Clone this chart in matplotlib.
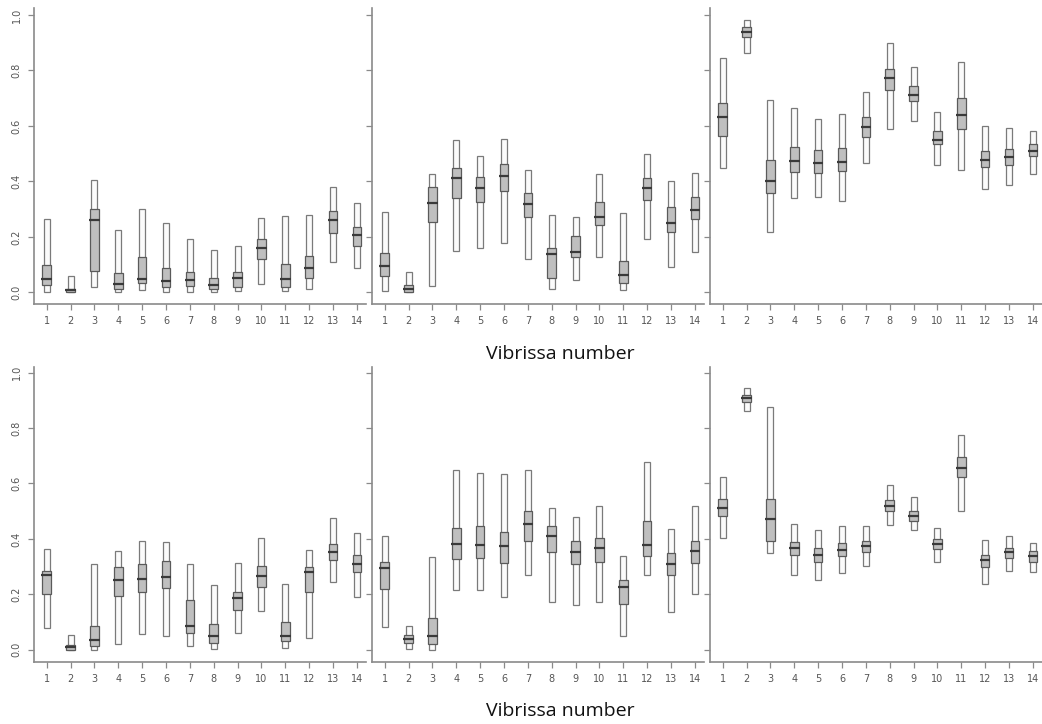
import matplotlib
matplotlib.use("Agg")
import matplotlib.pyplot as plt
import numpy as np

vibrissa = list(range(1, 15))
ytick_vals = [0.0, 0.2, 0.4, 0.6, 0.8, 1.0]
ytick_labels = ["0.0", "0.2", "0.4", "0.6", "0.8", "1.0"]
xlabel_text = "Vibrissa number"

# Panel A (top left)
a_lo  = [0.000, 0.000, 0.018, 0.000, 0.008, 0.000, 0.000, 0.000, 0.005, 0.031, 0.005, 0.012, 0.111, 0.087]
a_hi  = [0.264, 0.059, 0.405, 0.225, 0.302, 0.249, 0.194, 0.153, 0.167, 0.267, 0.275, 0.280, 0.381, 0.321]
a_q1  = [0.026, 0.001, 0.078, 0.011, 0.032, 0.020, 0.023, 0.013, 0.020, 0.119, 0.020, 0.053, 0.213, 0.167]
a_q3  = [0.099, 0.013, 0.300, 0.069, 0.126, 0.087, 0.075, 0.053, 0.072, 0.191, 0.101, 0.132, 0.293, 0.234]
a_med = [0.047, 0.007, 0.261, 0.031, 0.047, 0.041, 0.044, 0.026, 0.052, 0.159, 0.047, 0.087, 0.260, 0.208]

# Panel B (top middle)
b_lo  = [0.005, 0.000, 0.024, 0.148, 0.161, 0.178, 0.120, 0.011, 0.043, 0.127, 0.008, 0.192, 0.090, 0.145]
b_hi  = [0.290, 0.072, 0.427, 0.549, 0.492, 0.553, 0.440, 0.279, 0.273, 0.428, 0.285, 0.498, 0.401, 0.429]
b_q1  = [0.060, 0.001, 0.252, 0.340, 0.326, 0.365, 0.270, 0.050, 0.126, 0.242, 0.032, 0.332, 0.218, 0.266]
b_q3  = [0.143, 0.026, 0.381, 0.447, 0.415, 0.462, 0.359, 0.161, 0.202, 0.326, 0.114, 0.411, 0.306, 0.344]
b_med = [0.096, 0.013, 0.323, 0.411, 0.375, 0.419, 0.318, 0.137, 0.144, 0.273, 0.061, 0.375, 0.250, 0.297]

# Panel C (top right)
c_lo  = [0.450, 0.862, 0.219, 0.339, 0.343, 0.328, 0.465, 0.588, 0.618, 0.459, 0.441, 0.373, 0.386, 0.427]
c_hi  = [0.844, 0.982, 0.694, 0.663, 0.625, 0.643, 0.724, 0.898, 0.814, 0.651, 0.832, 0.601, 0.594, 0.582]
c_q1  = [0.564, 0.920, 0.357, 0.435, 0.431, 0.437, 0.559, 0.730, 0.690, 0.534, 0.589, 0.451, 0.459, 0.492]
c_q3  = [0.684, 0.956, 0.477, 0.525, 0.513, 0.520, 0.633, 0.805, 0.744, 0.583, 0.702, 0.511, 0.518, 0.535]
c_med = [0.633, 0.940, 0.401, 0.474, 0.465, 0.471, 0.597, 0.772, 0.712, 0.549, 0.639, 0.477, 0.487, 0.511]

# Panel D (bottom left)
d_lo  = [0.078, 0.000, 0.000, 0.022, 0.058, 0.048, 0.012, 0.002, 0.062, 0.139, 0.006, 0.042, 0.243, 0.189]
d_hi  = [0.363, 0.054, 0.310, 0.358, 0.393, 0.388, 0.308, 0.232, 0.314, 0.404, 0.236, 0.361, 0.475, 0.423]
d_q1  = [0.200, 0.000, 0.012, 0.195, 0.210, 0.222, 0.060, 0.026, 0.144, 0.228, 0.030, 0.207, 0.325, 0.280]
d_q3  = [0.285, 0.018, 0.087, 0.298, 0.311, 0.322, 0.180, 0.094, 0.208, 0.303, 0.102, 0.300, 0.382, 0.343]
d_med = [0.270, 0.010, 0.036, 0.252, 0.256, 0.264, 0.087, 0.050, 0.186, 0.267, 0.048, 0.282, 0.353, 0.310]

# Panel E (bottom middle)
e_lo  = [0.084, 0.002, 0.000, 0.214, 0.216, 0.190, 0.270, 0.174, 0.163, 0.173, 0.050, 0.270, 0.138, 0.202]
e_hi  = [0.411, 0.087, 0.333, 0.647, 0.637, 0.633, 0.650, 0.513, 0.480, 0.518, 0.339, 0.679, 0.434, 0.520]
e_q1  = [0.221, 0.024, 0.022, 0.328, 0.330, 0.313, 0.393, 0.353, 0.308, 0.316, 0.165, 0.340, 0.270, 0.313]
e_q3  = [0.316, 0.053, 0.114, 0.441, 0.445, 0.425, 0.500, 0.447, 0.392, 0.405, 0.252, 0.463, 0.349, 0.393]
e_med = [0.294, 0.038, 0.048, 0.382, 0.379, 0.373, 0.453, 0.412, 0.351, 0.367, 0.225, 0.379, 0.308, 0.357]

# Panel F (bottom right)
f_lo  = [0.403, 0.863, 0.349, 0.270, 0.252, 0.276, 0.303, 0.451, 0.433, 0.318, 0.502, 0.238, 0.286, 0.279]
f_hi  = [0.625, 0.943, 0.874, 0.454, 0.433, 0.447, 0.448, 0.595, 0.550, 0.441, 0.774, 0.397, 0.412, 0.387]
f_q1  = [0.483, 0.895, 0.391, 0.343, 0.318, 0.339, 0.352, 0.501, 0.465, 0.363, 0.623, 0.300, 0.330, 0.315]
f_q3  = [0.543, 0.918, 0.543, 0.389, 0.367, 0.387, 0.391, 0.541, 0.499, 0.400, 0.694, 0.343, 0.367, 0.355]
f_med = [0.513, 0.907, 0.472, 0.367, 0.343, 0.361, 0.373, 0.517, 0.484, 0.382, 0.655, 0.325, 0.351, 0.337]

panels = [
    (a_lo, a_hi, a_q1, a_q3, a_med),
    (b_lo, b_hi, b_q1, b_q3, b_med),
    (c_lo, c_hi, c_q1, c_q3, c_med),
    (d_lo, d_hi, d_q1, d_q3, d_med),
    (e_lo, e_hi, e_q1, e_q3, e_med),
    (f_lo, f_hi, f_q1, f_q3, f_med),
]

W, H = 1042, 724
fig = plt.figure(figsize=(W / 100, H / 100), dpi=100)

spine_col = "#8a8a8a"
text_col = "#555555"
left_px = [34, 372, 710]
panel_w = 332
rows = [(8, 304, (-0.042, 1.025)), (367, 662, (-0.044, 1.02))]

for i, (lo, hi, q1, q3, med) in enumerate(panels):
    r, c = divmod(i, 3)
    top_px, bot_px, ylim = rows[r]
    ax = fig.add_axes([left_px[c] / W, 1 - bot_px / H, panel_w / W, (bot_px - top_px) / H])
    x = np.array(vibrissa, dtype=float)
    lo, hi, q1, q3, med = map(np.array, (lo, hi, q1, q3, med))
    ax.bar(x, hi - lo, bottom=lo, width=0.25, facecolor="#fbfbfb",
           edgecolor="#7a7a7a", linewidth=0.9, zorder=2)
    ax.bar(x, q3 - q1, bottom=q1, width=0.36, facecolor="#bfbfbf",
           edgecolor="#5a5a5a", linewidth=0.9, zorder=3)
    ax.hlines(med, x - 0.22, x + 0.22, color="#3a3a3a", linewidth=1.6, zorder=4)
    ax.set_xlim(0.47, 14.38)
    ax.set_ylim(*ylim)
    for s in ["top", "right"]:
        ax.spines[s].set_visible(False)
    for s in ["left", "bottom"]:
        ax.spines[s].set_color(spine_col)
        ax.spines[s].set_linewidth(1.2)
    ax.set_xticks(vibrissa)
    ax.set_xticklabels([str(v) for v in vibrissa], fontsize=7, color=text_col)
    ax.set_yticks(ytick_vals)
    if c == 0:
        ax.set_yticklabels(ytick_labels, fontsize=7, color=text_col, rotation=90, va="center")
    else:
        ax.set_yticklabels([])
    ax.tick_params(axis="both", direction="out", length=4, width=0.9, color=spine_col, pad=5)
    ax.set_facecolor("none")

fig.text(560 / W, 1 - 354 / H, xlabel_text, ha="center", va="center",
         fontsize=14, family=["Open Sans", "DejaVu Sans"], color="#111111")
fig.text(560 / W, 1 - 711 / H, xlabel_text, ha="center", va="center",
         fontsize=14, family=["Open Sans", "DejaVu Sans"], color="#111111")

fig.savefig("out.png", dpi=100)
